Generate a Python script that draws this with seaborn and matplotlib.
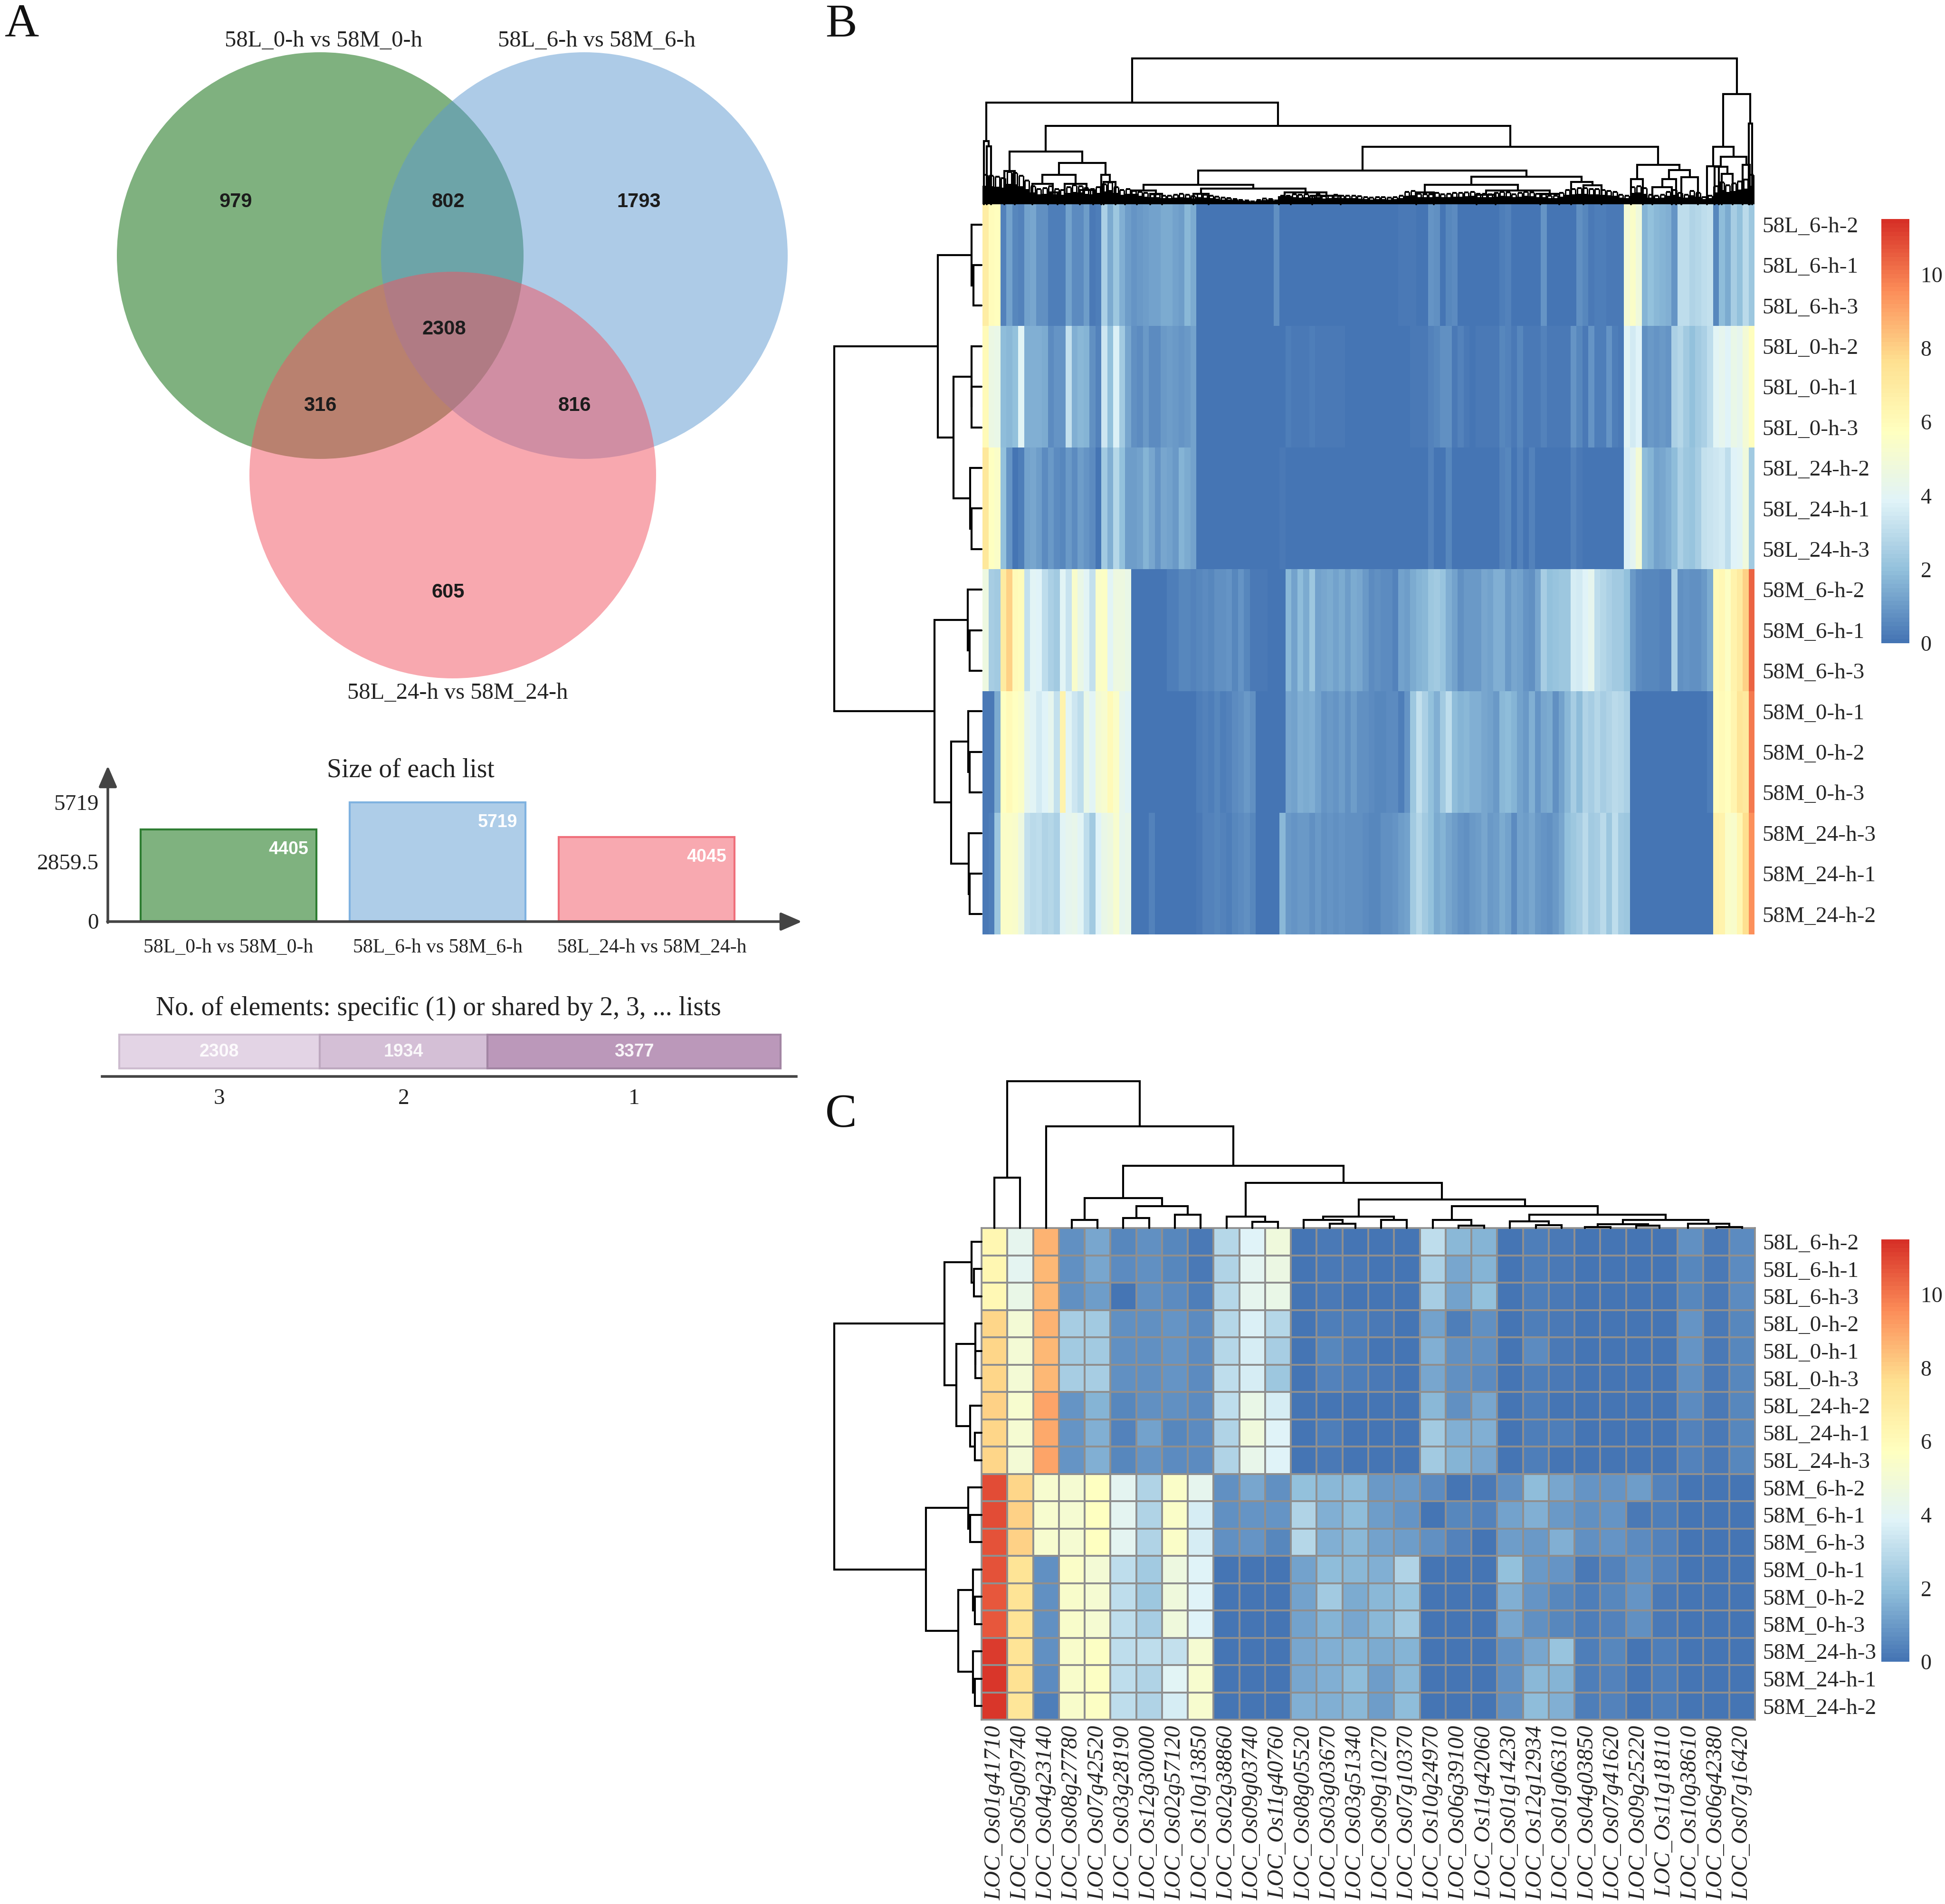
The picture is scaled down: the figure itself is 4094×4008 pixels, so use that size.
import matplotlib
matplotlib.use("Agg")
import matplotlib.pyplot as plt
from matplotlib.colors import LinearSegmentedColormap
from matplotlib.patches import Circle
from matplotlib.transforms import ScaledTranslation
import numpy as np
import pandas as pd
import seaborn as sns

sns.set_style("white")
plt.rcParams["font.family"] = ["Liberation Serif", "DejaVu Serif"]

W, H = 4094, 4008

# ---------- Panel A data ----------
LIST_NAMES = ["58L_0-h vs 58M_0-h", "58L_6-h vs 58M_6-h", "58L_24-h vs 58M_24-h"]
LIST_SIZES = [4405, 5719, 4045]
SHARED_LABELS = ["3", "2", "1"]
SHARED_COUNTS = [2308, 1934, 3377]
VENN_COUNTS = ["979", "802", "1793", "2308", "316", "816", "605"]

# ---------- Panel B data: one block per sample group, 130 binned columns ----------
ROWS = ["58L_6-h-2", "58L_6-h-1", "58L_6-h-3", "58L_0-h-2", "58L_0-h-1", "58L_0-h-3",
        "58L_24-h-2", "58L_24-h-1", "58L_24-h-3", "58M_6-h-2", "58M_6-h-1", "58M_6-h-3",
        "58M_0-h-1", "58M_0-h-2", "58M_0-h-3", "58M_24-h-3", "58M_24-h-1", "58M_24-h-2"]

BLOCK_L6 = [6.8, 5.9, 5.8, .4, 1.2, .5, .4, 1.2, 1.3, .7,
            .8, .3, .3, .3, 1.2, .6, .6, 1.1, .2, .3,
            2.6, 1.4, 2.2, 1.5, 1.1, .9, 1.0, 1.1, 1.2, 1.2,
            1.4, 1.4, 1.2, 1.1, 1.8, 1.4, .05, .05, .05, .05,
            .05, .05, .05, .05, .05, .05, .05, .05, .1, .7,
            .1, .05, .05, .05, .05, .05, .1, .05, .05, .05,
            .05, .05, .05, .05, .05, .05, .05, .05, .05, .05,
            .2, .2, .2, .05, .1, .9, .8, .1, .5, .6,
            .1, .1, .05, .1, .1, .05, .1, .3, .4, .1,
            .1, .1, .1, .1, .9, .1, .1, .1, .1, .1,
            .7, .5, .2, .3, .3, .2, .2, .2, 5.0, 5.5,
            4.8, 1.7, 2.0, 1.8, 1.7, 1.5, .9, 3.1, 3.0, 2.7,
            2.8, 3.0, 3.2, .5, 1.9, 1.4, 2.5, 2.0, 2.9, 2.2]
BLOCK_L0 = [6.0, 4.5, 4.4, 1.9, 1.8, 2.0, 4.0, 1.5, 1.6, 1.6,
            1.4, .6, .9, .9, 3.2, 1.5, 1.8, 1.7, .7, .4,
            3.4, 2.0, 3.7, 2.3, 1.3, .7, .6, 1.0, .6, .6,
            1.0, 1.1, 1.0, .9, 1.0, 1.2, .1, .1, .1, .1,
            .1, .1, .1, .1, .1, .1, .1, .1, .1, .1,
            .1, .3, .2, .2, .2, .3, .2, .2, .2, .2,
            .2, .1, .1, .1, .1, .1, .1, .1, .1, .1,
            .1, .1, .2, .2, .2, .4, .5, .8, .8, .2,
            .4, .2, .1, .2, .2, .2, .2, .5, .4, .2,
            .5, .2, .2, .2, .4, .2, .2, .2, .2, .9,
            .5, .2, .9, .3, .3, .9, .3, .2, 4.0, 3.5,
            3.8, .8, 1.0, .9, 1.0, .9, 2.6, 2.8, 2.3, 2.0,
            2.4, 2.6, 3.0, 4.0, 4.2, 3.8, 4.4, 4.2, 5.0, 5.8]
BLOCK_L24 = [7.2, 5.7, 5.5, 2.0, .9, .1, .3, 1.2, 1.3, 1.1,
             .6, 1.0, .6, .5, 1.0, .6, 1.1, .9, .6, .1,
             2.4, 1.6, 2.8, 2.0, 1.1, 1.1, 1.2, 1.7, 1.3, .9,
             1.3, 1.2, 1.0, 1.7, 1.4, 1.2, .05, .05, .05, .05,
             .05, .05, .05, .05, .05, .05, .05, .05, .05, .05,
             .2, .05, .05, .05, .05, .05, .05, .05, .05, .05,
             .05, .05, .05, .05, .05, .05, .05, .05, .05, .05,
             .05, .05, .05, .05, .1, .4, .05, .05, .5, .05,
             .1, .1, .1, .1, .1, .1, .1, .4, .5, .1,
             .4, .1, .4, .1, .1, .1, .1, .1, .1, .4,
             .2, .1, .1, .1, .1, .1, .1, .1, 3.7, 4.1,
             5.0, 1.9, 1.7, 1.2, 1.3, 1.5, 1.9, 2.6, 2.2, 2.1,
             2.5, 3.2, 3.3, 3.4, 3.5, 3.0, 3.8, 4.0, 4.8, 2.3]
BLOCK_M6 = [4.6, 2.5, 2.3, 7.0, 8.0, 6.0, 5.9, 3.2, 4.0, 3.8,
            3.0, 2.6, 2.4, 4.0, 3.3, 5.3, 4.4, 4.0, 3.2, 5.5,
            5.6, 4.0, 4.6, 4.6, 4.4, .1, .1, .1, .1, .1,
            .1, .3, .3, .5, .5, .4, .5, .6, .5, .8,
            .8, .9, .5, .9, .5, .2, .2, .2, .05, .05,
            .05, 1.8, 1.2, 1.9, 1.4, 2.2, 1.2, 1.3, 1.4, 1.2,
            1.4, 1.1, 1.4, 1.3, 1.0, .6, .7, .6, .6, .4,
            1.2, 1.1, 1.4, 1.7, 1.8, 2.2, 2.3, 2.1, 1.5, 1.2,
            .8, 1.0, 1.0, 1.0, 1.3, 1.2, 1.6, 1.6, 1.0, 1.3,
            1.2, .9, .7, 1.3, 2.5, 2.0, 2.1, 2.2, 2.2, 3.6,
            3.5, 3.8, 4.2, 3.1, 2.8, 2.6, 2.4, 2.3, 2.0, 1.0,
            .6, .5, .5, .5, .4, .4, 2.6, .7, .9, .8,
            .8, 1.0, 1.4, 6.0, 6.2, 5.6, 6.5, 7.0, 8.0, 10.4]
BLOCK_M0 = [.2, .2, 1.4, 5.7, 6.0, 5.7, 5.5, 4.2, 4.0, 3.5,
            3.8, 4.2, 3.2, 6.5, 4.0, 3.4, 3.0, 4.4, 4.0, 5.0,
            5.2, 6.0, 5.5, 4.2, 4.0, .05, .05, .05, .05, .05,
            .05, .05, .05, .05, .05, .05, .3, .4, .3, .5,
            .3, .4, .6, .8, 1.0, .8, .05, .05, .05, .05,
            .1, 1.3, 1.2, 1.5, 1.4, 1.5, 1.2, .9, 1.0, .9,
            1.1, .8, 1.1, .7, .8, .6, .5, .5, .6, .6,
            .3, .9, 2.2, 3.2, 2.6, 2.0, 1.6, 2.4, 3.1, 1.9,
            1.7, 1.8, 1.5, 1.5, 1.3, 1.2, 1.0, 1.8, 1.9, 1.7,
            1.2, 1.0, 1.5, .9, 1.3, 1.4, .8, 1.2, 1.8, 2.5,
            1.9, 2.7, 2.5, 2.8, 2.5, 2.7, 2.9, 2.8, 2.6, .05,
            .05, .05, .05, .05, .05, .05, .05, .05, .05, .05,
            .05, .05, .3, 5.9, 6.0, 5.8, 6.4, 7.3, 7.1, 10.0]
BLOCK_M24 = [.2, .3, 2.2, 5.5, 5.5, 5.4, 4.6, 3.2, 2.9, 3.0,
             2.7, 2.8, 2.6, 4.0, 4.2, 4.3, 4.0, 3.0, 2.4, 3.8,
             4.4, 4.6, 5.2, 4.2, 4.3, .05, .05, .05, .4, .05,
             .05, .05, .05, .05, .05, .05, .2, .4, .4, .5,
             .4, .3, .5, .6, .8, .5, .05, .05, .05, .05,
             1.8, 1.0, .9, 1.0, 1.0, .8, 1.0, .7, .9, .7,
             .9, .8, .8, .7, .6, .5, .5, .7, .8, .9,
             1.1, 1.2, 2.4, 2.8, 2.3, 2.0, 1.4, 1.7, 1.3, 1.1,
             .9, .8, 1.0, 1.1, 1.3, 1.0, 1.1, 1.4, 1.2, .6,
             1.2, 1.1, 1.3, 1.0, .9, .8, 1.0, 1.3, 2.0, 2.2,
             2.5, 2.9, 2.4, 2.5, 2.9, 2.2, 3.0, 2.4, 2.2, .05,
             .05, .05, .05, .05, .05, .05, .05, .05, .05, .05,
             .05, .05, .05, 6.6, 6.5, 5.5, 5.4, 6.3, 7.6, 9.5]

# Height of the fine dendrogram comb above each binned column of panel B
B_COMB = [62, 60, 58, 55, 68, 66, 60, 50, 38, 32,
          34, 38, 32, 30, 36, 40, 38, 34, 32, 36,
          42, 46, 36, 30, 32, 28, 26, 24, 21, 21,
          18, 18, 20, 22, 20, 17, 22, 20, 18, 16,
          14, 13, 11, 9, 8, 6, 9, 12, 11, 8,
          18, 18, 21, 20, 21, 18, 21, 17, 18, 20,
          18, 18, 18, 17, 15, 14, 15, 15, 14, 15,
          18, 26, 28, 22, 21, 21, 24, 21, 22, 24,
          24, 25, 26, 22, 22, 21, 24, 26, 25, 21,
          24, 26, 25, 22, 21, 18, 18, 24, 30, 32,
          34, 34, 32, 32, 30, 28, 26, 20, 18, 36,
          38, 34, 20, 18, 20, 26, 30, 24, 20, 28,
          24, 15, 18, 38, 46, 40, 44, 48, 52, 62]

# Dendrogram merges: (height, left, right); a bare number is a leaf position
B_TOP_LEFT = (111, (70, 3.7, 5.4),
              (87, (62, (43, 8.4, (25, 11.0, 12.6)), (43, 13.8, (30, 16.4, 18.6))),
               (62, 20.0, (47, 20.4, 22.4))))
B_TOP_MID_A = (41, (29, (20, 24.0, 26.0), (22, 28.2, 30.2)),
               (33, (22, 35.5, 38.1), (25, (15, 49.9, 51.9), (18, 55.5, 60.3))))
B_TOP_MID_B = (58, (41, (25, 73.0, 76.0), (29, (20, 83.2, 86.4), (22, 93.9, 97.1))),
               (47, 99.1, (40, 101.2, 104.2)))
B_TOP_MID_C = (83, (53, 109.2, 111.2),
               (72, (53, (36, 112.8, 116.1), 116.8), (57, 117.7, 120.5)))
B_TOP_RIGHT = (232, (121, (80, 122.0, 124.0),
                     (100, (79, 123.3, (64, 124.5, 126.3)), (83, 128.0, 129.2))),
               (170, 129.0, 129.6))
B_TOP = (307, (214, (133, .2, (122, .7, 1.4)),
               (165, B_TOP_LEFT, (121, (71, B_TOP_MID_A, B_TOP_MID_B), B_TOP_MID_C))),
         B_TOP_RIGHT)
B_LEFT = (310, (92, (21, 0.5, (17, 1.5, 2.5)),
                (59, (21, 3.5, (21, 4.5, 5.5)), (24, 6.5, (21, 7.5, 8.5)))),
          (99, (29, 9.5, (25, 10.5, 11.5)),
           (64, (28, 12.5, (25, 13.5, 14.5)), (27, 15.5, (25, 16.5, 17.5)))))

# ---------- Panel C data ----------
OS01G41710 = [6.3, 6.3, 6.2, 7.9, 7.9, 7.9, 8.0, 7.9, 7.9, 10.9, 10.9, 10.8, 10.7, 10.6, 10.6, 11.2, 11.3, 11.3]
OS05G09740 = [4.2, 4.1, 4.4, 5.0, 5.0, 5.0, 5.2, 5.1, 5.0, 7.9, 8.0, 8.0, 7.4, 7.4, 7.4, 7.4, 7.5, 7.3]
OS04G23140 = [8.7, 8.6, 8.6, 8.7, 8.6, 8.6, 9.0, 8.9, 9.0, 5.2, 5.2, 5.2, .7, .7, .8, .7, .6, .3]
OS08G27780 = [.8, .8, .8, 2.5, 2.4, 2.5, .9, .9, .9, 5.1, 5.1, 5.1, 5.5, 5.4, 5.4, 5.4, 5.4, 5.4]
OS07G42520 = [1.3, 1.3, 1.1, 2.4, 2.3, 2.5, 1.7, 1.6, 1.6, 5.7, 5.7, 5.7, 5.0, 5.1, 5.1, 5.6, 5.6, 5.6]
OS03G28190 = [.5, .6, .1, .7, .7, .7, .5, .4, .5, 4.1, 4.1, 4.1, 3.0, 3.0, 3.0, 3.0, 3.0, 3.0]
OS12G30000 = [.7, .7, .7, .8, .8, .8, .7, 1.2, .9, 2.7, 2.7, 2.7, 2.3, 2.2, 2.5, 3.0, 2.7, 2.7]
OS02G57120 = [.5, .5, .6, .9, .9, .9, .7, .5, .6, 5.5, 5.5, 5.5, 4.7, 4.8, 4.8, 3.2, 4.0, 3.6]
OS10G13850 = [.2, .2, .3, .6, .6, .6, .6, .6, .6, 4.2, 3.6, 3.6, 3.8, 3.8, 3.8, 5.1, 5.2, 5.2]
OS02G38860 = [2.8, 2.7, 2.8, 2.8, 2.8, 3.0, 3.0, 2.7, 2.7, .7, .7, .7, .1, .1, .1, .1, .1, .1]
OS09G03740 = [3.9, 4.1, 4.2, 3.7, 3.6, 3.6, 4.4, 4.8, 4.3, 1.3, .9, .9, .1, .1, .1, .1, .1, .1]
OS11G40760 = [4.8, 4.5, 4.4, 2.8, 2.5, 2.2, 3.6, 3.8, 3.9, .7, .9, .5, .1, .1, .1, .1, .1, .1]
OS08G05520 = [.1, .1, .1, .1, .1, .1, .1, .1, .1, 2.0, 2.7, 2.8, 1.2, 1.2, 1.2, 1.3, 1.3, 1.5]
OS03G03670 = [.2, .2, .2, .3, .5, .4, .1, .3, .2, 1.8, 1.6, 1.6, 1.9, 2.3, 1.7, 1.6, 1.6, 1.5]
OS03G51340 = [.1, .2, .1, .3, .3, .3, .1, .1, .1, 1.9, 1.9, 1.8, 1.8, 1.4, 1.3, 1.7, 1.9, 1.8]
OS09G10270 = [.1, .1, .1, .2, .1, .2, .1, .1, .1, 1.0, 1.1, 1.2, 1.6, 1.8, 1.8, 1.4, 1.1, 1.1]
OS07G10370 = [.1, .1, .1, .1, .1, .1, .1, .1, .1, 1.0, .9, 1.1, 2.7, 2.1, 2.4, 1.7, 1.8, 1.9]
OS10G24970 = [3.0, 2.6, 2.5, 1.2, 1.5, 1.3, 1.8, 2.4, 2.3, .6, .1, .7, .1, .1, .1, .1, .1, .1]
OS06G39100 = [1.8, 1.3, 1.2, .3, .8, .8, .8, 1.6, 1.7, .1, .5, .4, .1, .1, .1, .1, .1, .1]
OS11G42060 = [1.7, 1.7, 2.0, .7, .7, .6, 1.3, 1.5, 1.3, .2, .4, .1, .1, .1, .1, .1, .1, .1]
OS01G14230 = [.1, .1, .1, .1, .1, .1, .1, .1, .1, .8, 1.2, 1.1, 2.0, 1.5, 1.3, .8, .8, .8]
OS12G12934 = [.3, .3, .3, .3, .6, .3, .3, .3, .3, 1.9, 1.5, 1.0, 1.0, .9, .8, 1.3, 1.8, 1.9]
OS01G06310 = [.2, .2, .2, .2, .2, .2, .1, .3, .1, 1.3, 1.0, 1.6, .9, .5, .5, 2.1, 1.7, 1.5]
OS04G03850 = [.1, .1, .1, .1, .1, .1, .1, .1, .1, .9, .8, .7, .2, .3, .3, .3, .3, .3]
OS07G41620 = [.1, .1, .1, .1, .1, .1, .1, .1, .1, .9, .9, .9, .4, .5, .4, .5, .4, .4]
OS09G25220 = [.1, .1, .1, .1, .1, .1, .1, .1, .1, 1.1, .2, .6, .7, .9, .8, .1, .1, .1]
OS11G18110 = [.1, .1, .1, .1, .1, .1, .1, .1, .1, .4, .3, .4, .4, .2, .2, .3, .3, .3]
OS10G38610 = [.7, .5, .5, .9, .9, .7, .6, .4, .4, .1, .1, .1, .1, .1, .1, .1, .1, .1]
OS06G42380 = [.2, .2, .2, .2, .2, .2, .2, .2, .2, .1, .1, .1, .1, .1, .1, .1, .1, .1]
OS07G16420 = [.6, .6, .6, .5, .5, .5, .5, .5, .5, .1, .1, .1, .1, .1, .1, .1, .1, .1]
C_COLUMNS = [OS01G41710, OS05G09740, OS04G23140, OS08G27780, OS07G42520, OS03G28190,
             OS12G30000, OS02G57120, OS10G13850, OS02G38860, OS09G03740, OS11G40760,
             OS08G05520, OS03G03670, OS03G51340, OS09G10270, OS07G10370, OS10G24970,
             OS06G39100, OS11G42060, OS01G14230, OS12G12934, OS01G06310, OS04G03850,
             OS07G41620, OS09G25220, OS11G18110, OS10G38610, OS06G42380, OS07G16420]
GENES = ["LOC_Os01g41710", "LOC_Os05g09740", "LOC_Os04g23140", "LOC_Os08g27780", "LOC_Os07g42520",
         "LOC_Os03g28190", "LOC_Os12g30000", "LOC_Os02g57120", "LOC_Os10g13850", "LOC_Os02g38860",
         "LOC_Os09g03740", "LOC_Os11g40760", "LOC_Os08g05520", "LOC_Os03g03670", "LOC_Os03g51340",
         "LOC_Os09g10270", "LOC_Os07g10370", "LOC_Os10g24970", "LOC_Os06g39100", "LOC_Os11g42060",
         "LOC_Os01g14230", "LOC_Os12g12934", "LOC_Os01g06310", "LOC_Os04g03850", "LOC_Os07g41620",
         "LOC_Os09g25220", "LOC_Os11g18110", "LOC_Os10g38610", "LOC_Os06g42380", "LOC_Os07g16420"]

C_TOP_RIGHT = (46, (17, 17.5, (5, 18.5, 19.5)),
               (28, (14, 20.5, (6, 21.5, 22.5)),
                (17, (8, (2, 23.4, 24.4), (5, 25.4, 26.3)),
                 (9, 27.4, (2, 28.5, 29.5)))))
C_TOP = (309, (106, 0.5, 1.5),
         (214, 2.5,
          (131, (63, (17, 3.5, 4.5), (46, (21, 5.5, 6.5), (28, 7.5, 8.5))),
           (95, (24, 9.5, (13, 10.5, 11.5)),
            (60, (24, (17, 12.5, (9, 13.5, 14.5)), (17, 15.5, 16.5)), C_TOP_RIGHT)))))
C_LEFT = (310, (78, (21, 0.5, (16, 1.5, 2.5)),
                (53, (13, 3.5, (13, 4.5, 5.5)), (24, 6.5, (14, 7.5, 8.5)))),
          (117, (28, 9.5, (24, 10.5, 11.5)),
           (49, (18, 12.5, (14, 13.5, 14.5)), (18, 15.5, (14, 16.5, 17.5)))))

CBAR_TICKS = [0, 2, 4, 6, 8, 10]
VMIN, VMAX = 0, 11.5
CMAP = LinearSegmentedColormap.from_list(
    "rdylbu7", ["#4575B4", "#91BFDB", "#E0F3F8", "#FFFFBF", "#FEE090", "#FC8D59", "#D73027"], N=100)

fig = plt.figure(figsize=(W / 100, H / 100), dpi=100, facecolor="white")


def px_axes(x0, y0, x1, y1):
    return fig.add_axes([x0 / W, 1 - y1 / H, (x1 - x0) / W, (y1 - y0) / H])


def draw_tree(ax, node, top, lw=3.0):
    """Draw a nested (height, left, right) merge; returns (position, height)."""
    if not isinstance(node, tuple):
        return float(node), 0.0
    h, left, right = node
    xl, hl = draw_tree(ax, left, top, lw)
    xr, hr = draw_tree(ax, right, top, lw)
    pos = [xl, xl, xr, xr]
    hts = [hl, h, h, hr]
    if top:
        ax.plot(pos, hts, color="black", lw=lw, clip_on=False, solid_joinstyle="miter")
    else:
        ax.plot(hts, pos, color="black", lw=lw, clip_on=False, solid_joinstyle="miter")
    return (xl + xr) / 2, h


def heatmap(x0, y0, x1, y1, frame, cb, **kw):
    ax = px_axes(x0, y0, x1, y1)
    cax = px_axes(*cb)
    sns.heatmap(frame, ax=ax, cbar_ax=cax, cmap=CMAP, vmin=VMIN, vmax=VMAX,
                cbar_kws={"ticks": CBAR_TICKS}, **kw)
    cax.tick_params(length=0, labelsize=33, pad=17)
    for s in cax.spines.values():
        s.set_visible(False)
    ax.yaxis.tick_right()
    ax.tick_params(axis="y", length=0, labelsize=34, pad=12, labelrotation=0)
    return ax


# ---------- Overlay in image coordinates: Venn, arrows and panel letters ----------
over = fig.add_axes([0, 0, 1, 1], zorder=5)
over.set_xlim(0, W)
over.set_ylim(H, 0)
over.axis("off")
over.patch.set_alpha(0)
for (cx, cy), col in zip([(674, 538), (1230, 538), (953, 1000)], ["#006400", "#5D99D1", "#F35361"]):
    over.add_patch(Circle((cx, cy), 428, facecolor=col, edgecolor="none", alpha=0.5))
for txt, (x, y) in zip(VENN_COUNTS, [(496, 425), (943, 425), (1345, 425), (935, 693),
                                     (674, 854), (1209, 854), (943, 1247)]):
    over.text(x, y, txt, family="Liberation Sans", weight="bold", fontsize=30,
              color="#1c1c1c", ha="center", va="center")
for txt, (x, y) in zip(LIST_NAMES, [(681, 86), (1256, 86), (963, 1459)]):
    over.text(x, y, txt, fontsize=35, color="#222222", ha="center", va="center")
for letter, x, y in [("A", 10, 76), ("B", 1737, 76), ("C", 1737, 2371)]:
    over.text(x, y, letter, fontsize=72, color="#111111", ha="left", va="baseline")
over.text(864, 1621, "Size of each list", fontsize=40, color="#222222", ha="center", va="center")
over.text(923, 2123, "No. of elements: specific (1) or shared by 2, 3, ... lists",
          fontsize=40, color="#222222", ha="center", va="center")
arrow = dict(arrowstyle="-|>,head_length=1.5,head_width=0.65", color="#444444", lw=4,
             mutation_scale=18, shrinkA=0, shrinkB=0)
over.annotate("", xy=(1688, 1940), xytext=(226, 1940), arrowprops=arrow)
over.annotate("", xy=(227, 1612), xytext=(227, 1942), arrowprops=arrow)

# ---------- Panel A: list sizes ----------
ax_size = px_axes(227, 1614, 1685, 1939)
size_df = pd.DataFrame({"list": LIST_NAMES, "size": LIST_SIZES})
sns.barplot(data=size_df, x="list", y="size", hue="list", palette=["#7FB27F", "#AECDE8", "#F8A9B0"],
            dodge=False, width=0.84, legend=False, ax=ax_size, saturation=1)
for bar, edge in zip(ax_size.patches, ["#2E7D32", "#7FB2E0", "#EF6F7A"]):
    bar.set_edgecolor(edge)
    bar.set_linewidth(3)
ax_size.set_xlim(-0.577, 2.736)
ax_size.set_ylim(0, 7435)
ax_size.set_yticks([0, 2859.5, 5719], ["0", "2859.5", "5719"])
ax_size.set_xlabel("")
ax_size.set_ylabel("")
ax_size.tick_params(axis="y", length=5, width=3, color="#777777", labelsize=34, pad=9, labelcolor="#222222")
ax_size.tick_params(axis="x", length=13, width=2, color="#777777", labelsize=30, pad=13, labelcolor="#222222")
last_label = ax_size.get_xticklabels()[2]
last_label.set_transform(last_label.get_transform() + ScaledTranslation(0.11, 0, fig.dpi_scale_trans))
sns.despine(ax=ax_size, left=True, bottom=True)
ax_size.patch.set_alpha(0)
for i, v in enumerate(LIST_SIZES):
    ax_size.annotate(str(v), xy=(i + 0.42, v), xytext=(-12, -30), textcoords="offset points",
                     ha="right", va="center", color="white", family="Liberation Sans",
                     weight="bold", fontsize=27)

# ---------- Panel A: shared counts ----------
ax_sh = px_axes(215, 2170, 1676, 2266)
left = 0
for lab, cnt, fc, ec in zip(SHARED_LABELS, SHARED_COUNTS, ["#E3D4E5", "#D4BFD6", "#BB98BA"],
                            ["#CDBCCF", "#BDA8BF", "#A285A3"]):
    ax_sh.barh(0, cnt, left=left, height=1, color=fc, edgecolor=ec, linewidth=3)
    ax_sh.text(left + cnt / 2, 0, str(cnt), ha="center", va="center", color="white", alpha=0.9,
               family="Liberation Sans", weight="bold", fontsize=27)
    left += cnt
centers = np.cumsum(SHARED_COUNTS) - np.array(SHARED_COUNTS) / 2
ax_sh.set_xlim(-197, 7800)
ax_sh.set_ylim(-0.739, 0.613)
ax_sh.set_xticks(centers, SHARED_LABELS)
ax_sh.set_yticks([])
ax_sh.tick_params(axis="x", length=13, width=2, color="#777777", labelsize=34, pad=5, labelcolor="#222222")
sns.despine(ax=ax_sh, left=True)
ax_sh.spines["bottom"].set_color("#444444")
ax_sh.spines["bottom"].set_linewidth(4)

# ---------- Panel B ----------
b_matrix = np.repeat(np.array([BLOCK_L6, BLOCK_L0, BLOCK_L24, BLOCK_M6, BLOCK_M0, BLOCK_M24]), 3, axis=0)
b_df = pd.DataFrame(b_matrix, index=ROWS)
ax_b = heatmap(2068, 430, 3693, 1967, b_df, (3960, 461, 4019, 1354), xticklabels=False, yticklabels=ROWS)

ax_bt = px_axes(2068, 110, 3693, 430)
ax_bt.set_xlim(0, 130)
ax_bt.set_ylim(0, 320)
ax_bt.axis("off")
cols = np.arange(len(B_COMB))
comb = np.array(B_COMB, dtype=float)
ax_bt.bar(cols + 0.5, comb * 0.6 + 2, width=1.0, color="black", linewidth=0)
ax_bt.vlines(cols + 0.15, 0, comb, color="black", lw=2.2)
ax_bt.vlines(cols + 0.85, 0, comb, color="black", lw=2.2)
ax_bt.hlines(comb, cols + 0.15, cols + 0.85, color="black", lw=2.8)
draw_tree(ax_bt, B_TOP, True)

ax_bl = px_axes(1740, 430, 2066, 1967)
ax_bl.set_xlim(326, 0)
ax_bl.set_ylim(18, 0)
ax_bl.axis("off")
draw_tree(ax_bl, B_LEFT, False)

# ---------- Panel C ----------
c_df = pd.DataFrame(np.array(C_COLUMNS).T, index=ROWS, columns=GENES)
ax_c = heatmap(2066, 2585, 3694, 3620, c_df, (3960, 2609, 4019, 3498), xticklabels=GENES,
               yticklabels=ROWS, linewidths=2.6, linecolor="#8F8F8F")
ax_c.tick_params(axis="x", length=0, pad=9)
plt.setp(ax_c.get_xticklabels(), rotation=90, style="italic", fontsize=35)
for s in ax_c.spines.values():
    s.set_visible(True)
    s.set_color("#8F8F8F")
    s.set_linewidth(2.6)

ax_ct = px_axes(2066, 2260, 3694, 2585)
ax_ct.set_xlim(0, 30)
ax_ct.set_ylim(0, 325)
ax_ct.axis("off")
draw_tree(ax_ct, C_TOP, True)

ax_cl = px_axes(1740, 2585, 2066, 3620)
ax_cl.set_xlim(326, 0)
ax_cl.set_ylim(18, 0)
ax_cl.axis("off")
draw_tree(ax_cl, C_LEFT, False)

fig.savefig("out.png", dpi=100, facecolor="white")
